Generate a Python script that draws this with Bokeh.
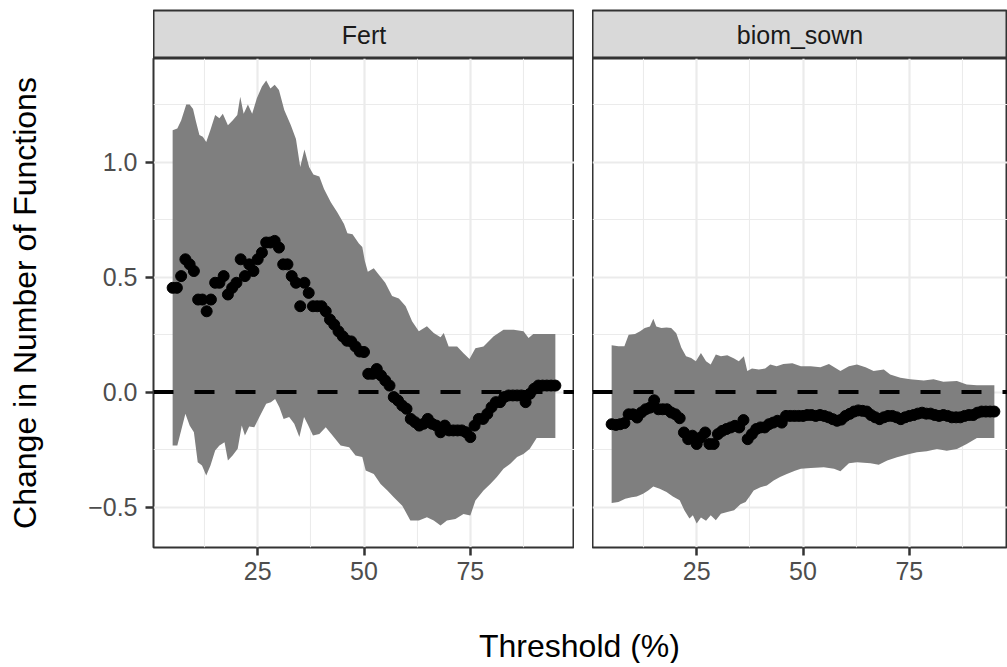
from bokeh.plotting import figure
from bokeh.layouts import column, row, Spacer
from bokeh.models import Range1d, FixedTicker, Span
from bokeh.core.properties import value
from bokeh.embed import file_html
from bokeh.resources import INLINE

# ---------------- data ----------------
panels = ["Fert", "biom_sown"]
thresholds = list(range(5, 96))

fert_est = [0.453, 0.453, 0.504, 0.577, 0.555, 0.526, 0.402, 0.402, 0.351, 0.402,
            0.475, 0.475, 0.504, 0.424, 0.453, 0.475, 0.577, 0.504, 0.555, 0.526,
            0.577, 0.606, 0.65, 0.65, 0.657, 0.628, 0.555, 0.555, 0.504, 0.475,
            0.373, 0.475, 0.431, 0.373, 0.373, 0.373, 0.351, 0.315, 0.293, 0.264,
            0.242, 0.223, 0.22, 0.198, 0.176, 0.174, 0.079, 0.079, 0.10, 0.072,
            0.05, 0.028, -0.022, -0.037, -0.059, -0.073, -0.117, -0.131, -0.146, -0.138,
            -0.117, -0.138, -0.146, -0.175, -0.146, -0.167, -0.167, -0.167, -0.167, -0.175,
            -0.196, -0.146, -0.117, -0.117, -0.095, -0.066, -0.044, -0.044, -0.022, -0.015,
            -0.015, -0.015, -0.015, -0.044, -0.008, 0.014, 0.028, 0.028, 0.028, 0.028,
            0.028]

biom_est = [-0.14, -0.143, -0.14, -0.135, -0.097, -0.097, -0.111, -0.089, -0.075, -0.068,
            -0.036, -0.075, -0.075, -0.075, -0.089, -0.097, -0.114, -0.176, -0.205, -0.19,
            -0.226, -0.197, -0.176, -0.226, -0.226, -0.183, -0.169, -0.161, -0.154, -0.147,
            -0.154, -0.122, -0.205, -0.183, -0.161, -0.154, -0.154, -0.14, -0.133, -0.125,
            -0.133, -0.104, -0.104, -0.104, -0.104, -0.104, -0.1, -0.1, -0.104, -0.1,
            -0.104, -0.11, -0.118, -0.125, -0.12, -0.104, -0.095, -0.085, -0.08, -0.082,
            -0.085, -0.1, -0.11, -0.118, -0.11, -0.104, -0.104, -0.11, -0.118, -0.11,
            -0.104, -0.1, -0.094, -0.09, -0.094, -0.094, -0.1, -0.104, -0.1, -0.104,
            -0.11, -0.11, -0.11, -0.104, -0.1, -0.1, -0.09, -0.085, -0.085, -0.085,
            -0.085]

fert_upper_x = [5, 6.1, 7, 8.2, 9, 9.8, 10.5, 11.3, 12.1, 12.9, 13.9, 15, 16, 16.8, 18,
                19.1, 20.2, 20.9, 21.7, 22.7, 23.7, 24.8, 26, 27, 28, 29, 30, 31.25, 32.8,
                34, 35, 36, 37.1, 38.1, 39.5, 40.6, 42.2, 43.75, 45.3, 46.1, 47.3, 48.8,
                49.6, 50.2, 50.9, 52.3, 53.5, 55, 56.6, 58.2, 59.8, 61.3, 62.9, 64.8, 66.4,
                68, 68.75, 69.9, 71.9, 73.4, 74.8, 76.2, 78.1, 80.5, 82.8, 85.2, 87.5,
                88.7, 89.8, 95]
fert_upper = [1.138, 1.146, 1.18, 1.25, 1.25, 1.23, 1.175, 1.117, 1.11, 1.087, 1.14, 1.204,
              1.19, 1.21, 1.16, 1.18, 1.204, 1.284, 1.21, 1.25, 1.21, 1.277, 1.328, 1.354,
              1.32, 1.336, 1.313, 1.226, 1.16, 1.10, 0.978, 1.054, 0.978, 0.946, 0.937,
              0.883, 0.825, 0.78, 0.73, 0.69, 0.686, 0.646, 0.63, 0.57, 0.523, 0.538, 0.51,
              0.475, 0.417, 0.407, 0.373, 0.308, 0.264, 0.286, 0.257, 0.238, 0.257, 0.198,
              0.198, 0.169, 0.143, 0.19, 0.198, 0.242, 0.271, 0.271, 0.264, 0.235, 0.252,
              0.252]

fert_lower_x = [5, 6.1, 7, 8, 9, 10, 10.9, 11.9, 12.9, 13.9, 15, 16, 17.2, 18, 19.1, 20.3,
                21.25, 22, 23, 24.2, 25.4, 27, 28.1, 29.1, 30.1, 31.1, 32.4, 33.6, 34.8,
                35.9, 36.9, 38, 39.5, 41, 42.6, 44.5, 46.5, 48, 49.6, 50.4, 52.3, 53.9,
                55.5, 57, 59, 60.9, 62.9, 64.8, 66.4, 68, 69.5, 71.5, 73.4, 75, 76.2, 78.1,
                79.7, 81.25, 82.8, 84.4, 86, 87.5, 89, 90.6, 95]
fert_lower = [-0.233, -0.233, -0.167, -0.095, -0.146, -0.175, -0.305, -0.32, -0.363, -0.32,
              -0.254, -0.233, -0.218, -0.298, -0.276, -0.247, -0.146, -0.189, -0.15, -0.153,
              -0.109, -0.051, -0.044, -0.03, -0.066, -0.117, -0.109, -0.138, -0.196, -0.109,
              -0.146, -0.189, -0.182, -0.153, -0.189, -0.233, -0.24, -0.276, -0.283, -0.341,
              -0.356, -0.4, -0.428, -0.457, -0.494, -0.559, -0.559, -0.544, -0.559, -0.58,
              -0.559, -0.552, -0.53, -0.537, -0.472, -0.428, -0.4, -0.37, -0.334, -0.312,
              -0.283, -0.269, -0.247, -0.2, -0.2]

biom_upper_x = [5, 6.6, 8, 9, 10.5, 11.7, 12.8, 14, 14.8, 15.5, 16.7, 17.9, 19, 20.2, 21.4,
                22.5, 23.7, 24.8, 26, 27.2, 28.3, 29.5, 30.7, 32.2, 33.8, 34.9, 36.1, 36.9,
                38, 39.6, 41.1, 42.3, 43.8, 45.4, 47.5, 49.5, 51.8, 54.1, 56.1, 58.8, 60.8,
                62.7, 64.7, 66.6, 69, 70.5, 72.9, 75.2, 78.4, 80.7, 83, 86.2, 88.5, 90.9, 95]
biom_upper = [0.203, 0.199, 0.199, 0.249, 0.252, 0.264, 0.278, 0.285, 0.318, 0.285, 0.278,
              0.281, 0.278, 0.256, 0.192, 0.156, 0.148, 0.134, 0.17, 0.134, 0.12, 0.163,
              0.156, 0.16, 0.146, 0.134, 0.156, 0.091, 0.102, 0.098, 0.102, 0.12, 0.112,
              0.122, 0.125, 0.112, 0.112, 0.108, 0.122, 0.091, 0.112, 0.12, 0.108, 0.091,
              0.098, 0.076, 0.062, 0.055, 0.05, 0.055, 0.045, 0.048, 0.033, 0.029, 0.029]

biom_lower_x = [5, 6.6, 8.2, 9.7, 10.9, 12.4, 13.6, 14.8, 16.3, 17.9, 19.4, 21, 22.1, 23.3,
                24.1, 25, 26, 27.2, 28.3, 29.5, 30.7, 32.2, 33.8, 35.3, 36.5, 37.6, 38.4, 40,
                41.5, 43.1, 44.6, 46.2, 48.1, 49.5, 51.8, 54.9, 57.3, 58.8, 60.8, 62.7, 65.9,
                67.8, 69.8, 72.1, 74.5, 76.8, 79.1, 81.5, 83.8, 86.2, 88.5, 90.9, 95]
biom_lower = [-0.483, -0.478, -0.464, -0.457, -0.454, -0.442, -0.428, -0.411, -0.421, -0.435,
              -0.454, -0.471, -0.514, -0.55, -0.536, -0.572, -0.546, -0.56, -0.536, -0.558,
              -0.529, -0.522, -0.514, -0.488, -0.478, -0.45, -0.428, -0.414, -0.406, -0.385,
              -0.37, -0.356, -0.342, -0.334, -0.33, -0.327, -0.334, -0.344, -0.31, -0.305,
              -0.31, -0.316, -0.298, -0.284, -0.272, -0.262, -0.258, -0.248, -0.255, -0.248,
              -0.226, -0.2, -0.2]

x_major = [25, 50, 75]
x_minor = [12.5, 37.5, 62.5, 87.5]
y_major = [-0.5, 0.0, 0.5, 1.0]
y_minor = [-0.25, 0.25, 0.75, 1.25]
y_labels = {-0.5: "\u22120.5", 0: "0.0", 0.5: "0.5", 1: "1.0"}
x_title = "Threshold (%)"
y_title = "Change in Number of Functions"

# ---------------- styling ----------------
FONT = "Liberation Sans"
TICK_PX = "25px"
TITLE_PX = "32px"
X_START, X_END_LEFT = 0.5, 99.5
Y_START, Y_END = -0.676, 1.45
FRAME_H = 489
BOTTOM = 50
PANEL_H = FRAME_H + BOTTOM
STRIP_TOP = 10
STRIP_H = 48
LEFT_W = 421
RIGHT_W = 415
LEFT_MARGIN = 153
GAP = 18
XT_H = 66
px_per_unit = LEFT_W / (X_END_LEFT - X_START)
X_END_RIGHT = X_START + RIGHT_W / px_per_unit


def style_panel(p):
    p.background_fill_color = "white"
    p.border_fill_color = "white"
    p.outline_line_color = "#333333"
    p.outline_line_width = 2
    for ax in p.xaxis:
        ax.ticker = FixedTicker(ticks=x_major, minor_ticks=x_minor)
        ax.axis_line_color = None
        ax.major_tick_line_color = "#333333"
        ax.major_tick_line_width = 2.5
        ax.major_tick_out = 8
        ax.major_tick_in = 0
        ax.minor_tick_line_color = None
        ax.major_label_text_font = FONT
        ax.major_label_text_font_size = TICK_PX
        ax.major_label_text_color = "#4D4D4D"
        ax.major_label_standoff = 6
    p.xgrid.grid_line_color = "#EBEBEB"
    p.xgrid.grid_line_width = 2.2
    p.xgrid.minor_grid_line_color = "#EBEBEB"
    p.xgrid.minor_grid_line_width = 1.1
    p.ygrid.ticker = FixedTicker(ticks=y_major, minor_ticks=y_minor)
    p.ygrid.grid_line_color = "#EBEBEB"
    p.ygrid.grid_line_width = 2.2
    p.ygrid.minor_grid_line_color = "#EBEBEB"
    p.ygrid.minor_grid_line_width = 1.1


def make_panel(est, up_x, up, lo_x, lo, width, x_end, show_y):
    p = figure(width=width + (LEFT_MARGIN if show_y else 0), height=PANEL_H,
               x_range=Range1d(X_START, x_end), y_range=Range1d(Y_START, Y_END),
               output_backend="svg", toolbar_location=None,
               y_axis_location="left" if show_y else None,
               min_border_left=LEFT_MARGIN if show_y else 0, min_border_right=0,
               min_border_top=0, min_border_bottom=BOTTOM)
    style_panel(p)
    if show_y:
        ax = p.yaxis[0]
        ax.ticker = FixedTicker(ticks=y_major, minor_ticks=y_minor)
        ax.major_label_overrides = y_labels
        ax.axis_line_color = None
        ax.major_tick_line_color = "#333333"
        ax.major_tick_line_width = 2.5
        ax.major_tick_out = 8
        ax.major_tick_in = 0
        ax.minor_tick_line_color = None
        ax.major_label_text_font = FONT
        ax.major_label_text_font_size = TICK_PX
        ax.major_label_text_color = "#4D4D4D"
        ax.major_label_standoff = 8
        ax.axis_label = y_title
        ax.axis_label_text_font = FONT
        ax.axis_label_text_font_size = TITLE_PX
        ax.axis_label_text_font_style = "normal"
        ax.axis_label_text_color = "black"
        ax.axis_label_standoff = 42
    p.patch(up_x + lo_x[::-1], up + lo[::-1], fill_color="#7F7F7F", line_color=None)
    p.scatter(thresholds, est, size=11, fill_color="black", line_color="black")
    p.add_layout(Span(location=0, dimension="width", line_color="black",
                      line_width=4, line_dash="20 21"))
    return p


def make_strip(name, width):
    s = figure(width=width, height=STRIP_TOP + STRIP_H, x_range=Range1d(0, 1),
               y_range=Range1d(0, 1), output_backend="svg", toolbar_location=None,
               x_axis_location=None, y_axis_location=None,
               min_border_left=0, min_border_right=0, min_border_top=STRIP_TOP,
               min_border_bottom=0)
    s.background_fill_color = "#D9D9D9"
    s.border_fill_color = "white"
    s.outline_line_color = "#333333"
    s.outline_line_width = 2
    s.xgrid.visible = False
    s.ygrid.visible = False
    s.text(x=[0.5], y=[0.5], text=[name], text_font=value(FONT), text_font_size=TICK_PX,
           text_color="#1A1A1A", text_align="center", text_baseline="middle")
    return s


p1 = make_panel(fert_est, fert_upper_x, fert_upper, fert_lower_x, fert_lower,
                LEFT_W, X_END_LEFT, True)
p2 = make_panel(biom_est, biom_upper_x, biom_upper, biom_lower_x, biom_lower,
                RIGHT_W, X_END_RIGHT, False)

s1 = make_strip(panels[0], LEFT_W)
s2 = make_strip(panels[1], RIGHT_W)

total_w = LEFT_MARGIN + LEFT_W + GAP + RIGHT_W
xt = figure(width=total_w, height=XT_H, x_range=Range1d(0, total_w), y_range=Range1d(0, XT_H),
            output_backend="svg", toolbar_location=None,
            x_axis_location=None, y_axis_location=None,
            min_border_left=0, min_border_right=0, min_border_top=0, min_border_bottom=0)
xt.outline_line_color = None
xt.xgrid.visible = False
xt.ygrid.visible = False
xt.text(x=[579], y=[XT_H - 48], text=[x_title], text_font=value(FONT),
        text_font_size=TITLE_PX, text_color="black", text_align="center",
        text_baseline="middle")

layout = column(
    row(Spacer(width=LEFT_MARGIN, height=STRIP_TOP + STRIP_H), s1,
        Spacer(width=GAP, height=STRIP_TOP + STRIP_H), s2),
    row(p1, Spacer(width=GAP, height=PANEL_H), p2),
    xt,
)

open("out.html", "w").write(file_html(layout, INLINE))
